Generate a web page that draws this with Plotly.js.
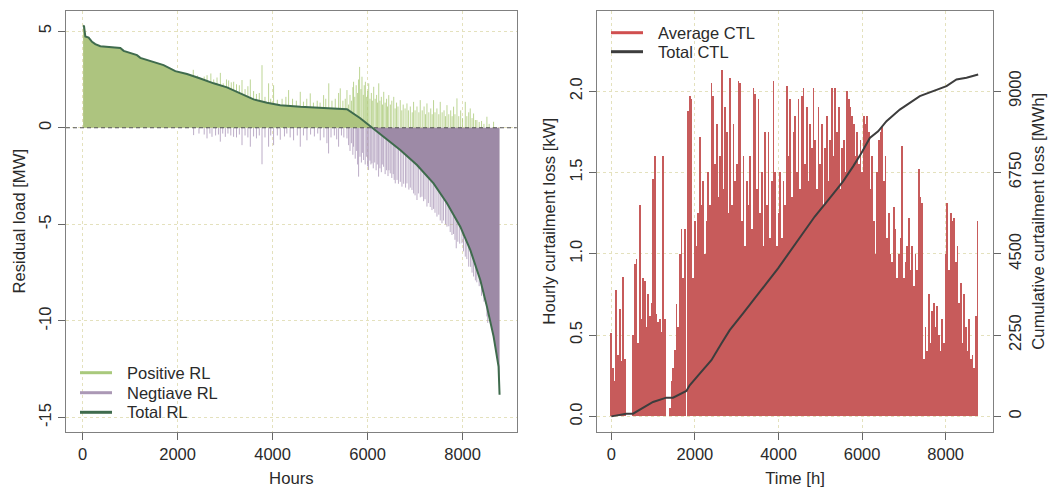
<!DOCTYPE html>
<html>
<head>
<meta charset="utf-8">
<script src="https://cdn.plot.ly/plotly-3.0.1.min.js"></script>
<style>html,body{margin:0;padding:0;background:#fff;}#chart{width:1048px;height:488px;}</style>
</head>
<body>
<div id="chart"></div>
<script>
// ---------- Left panel: residual load duration curve ----------
const TOTAL_H = [10,30,57,127,198,267,373,794,864,1145,1215,1495,1705,1952,2198,2478,2758,3040,3320,3600,3882,4162,4583,5004,5566,5846,6105,6337,6688,7040,7389,7672,7952,8162,8373,8513,8653,8758,8779];
const TOTAL_V = [5.29,5.25,4.72,4.67,4.45,4.33,4.22,4.13,3.98,3.76,3.62,3.41,3.24,2.93,2.78,2.55,2.30,2.09,1.78,1.47,1.29,1.17,1.09,1.05,0.96,0.49,0.0,-0.47,-1.15,-1.93,-2.88,-3.91,-5.12,-6.32,-7.88,-9.26,-10.8,-12.36,-13.82];

const POS_H = [2330,2420,2560,2620,2700,2760,2830,2900,2960,3030,3075,3130,3180,3240,3300,3356,3420,3480,3531,3600,3660,3720,3777,3840,3916,3960,4021,4100,4200,4280,4337,4420,4500,4583,4650,4720,4793,4860,4940,5000,5074,5120,5183,5250,5320,5390,5425,5480,5530,5566,
  5600,5630,5660,5690,5705,5730,5760,5790,5810,5832,5860,5882,5910,5930,5954,5980,6000,6024,6050,6080,6100,6129,6160,6190,6210,6235,6260,6290,6315,6340,6370,6400,6420,6446,6480,6510,6551,6580,6610,6640,6688,6720,6750,6790,6829,6860,6900,6940,6969,7000,7040,7080,7109,7150,7190,7220,7250,7290,7330,7360,7389,7420,7460,7500,7530,7570,7610,7640,7672,7710,7750,7780,7811,7840,7882,7920,7960,8000,8057,8090,8130,8162,8200,8232,8270,8302,8350,8400,8450,8513,8560,8653];
const POS_V = [3.0,2.7,2.65,2.72,2.81,2.5,2.6,2.84,2.3,2.5,2.45,2.35,2.38,2.25,2.2,2.47,2.0,2.15,2.5,1.9,1.75,1.8,3.24,1.6,2.3,1.5,2.2,1.45,1.5,1.6,1.95,1.5,1.4,1.86,1.35,1.5,1.78,1.3,1.4,1.3,1.69,1.5,2.3,1.4,1.5,1.8,2.04,1.4,1.5,1.95,
  1.2,1.7,1.4,2.1,2.38,1.6,2.2,1.8,2.5,3.15,2.0,2.64,1.7,2.2,2.38,1.6,1.9,2.3,1.5,1.8,1.4,2.12,1.5,1.7,1.3,2.3,1.4,1.6,1.2,1.86,1.3,1.5,1.1,1.69,1.2,1.4,1.6,1.0,1.3,1.1,1.43,0.9,1.2,1.0,1.26,0.9,1.1,0.8,1.34,0.9,1.1,0.8,1.43,0.9,1.1,0.7,1.26,0.8,1.0,0.7,1.43,0.8,1.0,0.7,1.34,0.8,0.9,0.6,1.17,0.7,0.9,0.6,1.09,0.7,1.52,0.6,0.9,0.5,1.34,0.6,0.8,1.0,0.5,0.74,0.4,0.4,0.3,0.35,0.2,0.57,0.2,0.31];

const NEG_H = [2337,2450,2560,2619,2680,2724,2800,2860,2899,2950,3005,3060,3120,3179,3240,3300,3356,3420,3480,3531,3600,3660,3720,3777,3840,3916,3960,4021,4100,4162,4250,4300,4370,4442,4520,4583,4650,4723,4800,4880,4950,5004,5080,5144,5179,5230,5300,5350,5390,5450,5500,5566,
  5600,5630,5660,5690,5705,5740,5770,5790,5811,5840,5870,5895,5916,5950,5980,6000,6021,6050,6070,6092,6120,6150,6180,6205,6232,6260,6290,6310,6337,6370,6400,6430,6450,6478,6510,6540,6560,6583,6620,6650,6690,6724,6760,6800,6829,6870,6900,6935,6970,7000,7040,7070,7110,7145,7180,7210,7250,7280,7320,7356,7390,7420,7461,7500,7530,7567,7600,7640,7672,7710,7740,7777,7810,7840,7867,7900,7940,7987,8020,8057,8090,8129,8170,8200,8232,8270,8300,8350,8400,8450,8513,8530];
const NEG_V = [-0.38,-0.3,-0.35,-0.55,-0.3,-0.47,-0.4,-0.35,-0.72,-0.3,-0.47,-0.3,-0.4,-0.47,-0.5,-0.35,-0.9,-0.4,-0.5,-0.98,-0.45,-0.55,-0.4,-1.89,-0.5,-0.98,-0.4,-0.9,-0.4,-0.62,-0.45,-0.3,-0.5,-0.65,-0.4,-0.98,-0.4,-0.65,-0.35,-0.45,-0.3,-0.65,-0.5,-0.8,-1.33,-0.5,-0.4,-0.6,-0.98,-0.4,-0.5,-0.55,
  -0.9,-1.2,-0.8,-1.4,-0.98,-1.6,-1.2,-1.9,-2.53,-1.5,-1.8,-1.3,-1.67,-1.9,-1.5,-2.0,-2.19,-1.7,-1.9,-1.84,-2.1,-1.8,-2.2,-1.9,-2.53,-2.1,-2.3,-1.9,-2.02,-2.4,-2.2,-2.5,-2.2,-2.36,-2.6,-2.4,-2.7,-2.88,-2.7,-2.9,-2.8,-3.05,-2.9,-3.1,-2.88,-3.2,-3.1,-3.22,-3.4,-3.5,-3.74,-3.4,-3.6,-3.57,-3.8,-3.7,-4.08,-3.9,-4.1,-4.26,-4.2,-4.4,-4.6,-4.5,-4.8,-4.94,-4.8,-5.0,-5.12,-5.1,-5.4,-5.55,-5.5,-5.8,-6.24,-5.9,-6.0,-5.98,-6.4,-6.67,-6.8,-7.19,-7.2,-7.5,-7.7,-7.9,-8.0,-8.2,-8.7,-9.0,-9.77,-10.1];

const LEFT_XTICKS = [0,2000,4000,6000,8000];
const LEFT_YTICKS = [-15,-10,-5,0,5];
const LEFT_YTEXT = ['-15','-10','-5','0','5'];
const LEFT_LEGEND = ['Positive RL','Negtiave RL','Total RL'];

// ---------- Right panel: curtailment loss ----------
const CTL_STEP = 40; // hours between bars
const CTL_V = [
  0.51,0.30,0.22,0.78,0.38,0.66,0.34,0.86,0.35,0.00,
  0.00,0.00,0.00,0.50,0.94,0.97,0.45,1.30,0.60,0.85,
  0.83,0.55,0.75,0.62,0.70,1.46,1.60,0.63,0.58,0.60,
  0.52,1.60,0.60,0.00,0.00,0.05,0.22,0.30,0.41,0.69,
  0.55,1.00,1.15,0.85,1.15,0.00,1.88,1.97,1.95,0.85,
  1.20,1.05,1.25,1.72,1.30,1.45,1.00,1.20,1.50,1.30,
  2.05,1.97,1.55,1.80,1.35,1.60,2.13,1.40,1.90,1.75,
  1.25,2.08,1.30,1.80,1.45,1.55,2.06,2.05,1.20,1.60,
  1.05,1.45,1.30,1.60,1.15,2.02,1.98,1.40,1.95,1.25,
  1.50,1.05,1.75,1.30,1.75,1.10,1.45,2.06,1.50,1.05,
  1.25,1.50,1.10,1.45,1.30,2.03,1.60,1.95,1.35,1.75,
  1.85,1.50,1.95,1.40,1.97,2.02,1.55,1.90,1.45,1.80,
  1.65,2.02,1.70,1.40,1.90,1.55,1.80,1.30,1.65,1.85,
  1.45,1.70,2.02,1.60,2.02,1.75,1.90,1.40,1.65,1.70,
  1.50,2.00,1.95,1.90,1.85,1.80,1.60,1.75,1.55,1.70,
  1.50,1.85,1.80,1.85,1.75,1.40,1.60,1.20,1.00,1.50,
  1.70,1.75,1.78,1.45,1.60,1.10,1.25,1.00,0.95,1.29,
  1.15,0.85,1.00,1.10,1.66,0.85,0.95,1.05,1.22,0.90,
  1.05,0.80,1.00,0.90,1.52,1.35,1.31,0.35,0.55,0.40,
  0.75,0.45,0.65,0.70,0.55,0.68,0.50,0.40,0.60,0.45,
  1.00,1.31,0.90,1.25,1.20,1.22,0.95,1.05,0.70,0.82,
  0.45,0.75,0.55,0.40,0.60,0.35,0.38,0.30,0.62,1.20];

const CUM_H = [0,359,519,718,998,1317,1476,1796,1875,2115,2394,2634,2833,3152,3471,3711,3990,4269,4589,4868,5227,5546,5786,5985,6185,6384,6584,6903,7382,7701,8020,8259,8499,8778];
const CUM_V = [0,74,74,213,398,518,518,703,860,1184,1554,2016,2386,2849,3311,3681,4098,4560,5069,5531,6040,6503,6919,7289,7705,7890,8168,8491,8861,9000,9139,9324,9370,9462];

const RIGHT_YTICKS = [0,0.5,1,1.5,2];
const RIGHT_YTEXT = ['0.0','0.5','1.0','1.5','2.0'];
const CUM_TICKS = [0,2250,4500,6750,9000];
const RIGHT_LEGEND = ['Average CTL','Total CTL'];

// ---------- build ----------
function spikes(hs, vs) {
  const x = [], y = [];
  for (let i = 0; i < hs.length; i++) { x.push(hs[i], hs[i], null); y.push(0, vs[i], null); }
  return {x, y};
}
const cross = TOTAL_V.indexOf(0);
const posS = spikes(POS_H, POS_V), negS = spikes(NEG_H, NEG_V);
const ctlX = CTL_V.map((v, i) => i * CTL_STEP);

const C_GREEN_FILL = '#adc47f', C_GREEN_SPK = 'rgba(172,202,122,0.8)';
const C_PURP_FILL = '#9d8aa6', C_PURP_SPK = 'rgba(165,146,180,0.75)';
const C_TOTAL = '#3f6b4d';
const C_RED = '#c75b5b';
const C_DARK = '#3d3d3d';

const traces = [
  {type:'scatter', mode:'lines', x:negS.x, y:negS.y, line:{color:C_PURP_SPK, width:1}, hoverinfo:'skip', xaxis:'x', yaxis:'y'},
  {type:'scatter', mode:'lines', x:posS.x, y:posS.y, line:{color:C_GREEN_SPK, width:1}, hoverinfo:'skip', xaxis:'x', yaxis:'y'},
  {type:'scatter', mode:'lines', x:TOTAL_H.slice(0, cross+1), y:TOTAL_V.slice(0, cross+1), fill:'tozeroy', fillcolor:C_GREEN_FILL, line:{width:0, color:C_GREEN_FILL}, hoverinfo:'skip', xaxis:'x', yaxis:'y'},
  {type:'scatter', mode:'lines', x:TOTAL_H.slice(cross), y:TOTAL_V.slice(cross), fill:'tozeroy', fillcolor:C_PURP_FILL, line:{width:0, color:C_PURP_FILL}, hoverinfo:'skip', xaxis:'x', yaxis:'y'},
  {type:'scatter', mode:'lines', x:TOTAL_H, y:TOTAL_V, line:{color:C_TOTAL, width:2}, xaxis:'x', yaxis:'y'},
  // right panel
  {type:'bar', x:ctlX, y:CTL_V, width:CTL_STEP*1.03, marker:{color:C_RED, line:{width:0}}, xaxis:'x2', yaxis:'y2'},
  {type:'scatter', mode:'lines', x:CUM_H, y:CUM_V, line:{color:C_DARK, width:2}, xaxis:'x2', yaxis:'y3'}
];

const FONT = {family:'"Liberation Sans", Arial, Helvetica, sans-serif', size:16.5, color:'#2a2a2a'};
const TFONT = Object.assign({}, FONT, {size:16.7});
const GRID = '#e4e1bd';
function axisBase() {
  return {showline:true, mirror:true, linecolor:'#808080', linewidth:1, ticks:'outside', ticklen:7, tickcolor:'#666', tickwidth:1,
          showgrid:true, gridcolor:GRID, griddash:'dot', gridwidth:1, zeroline:false, tickfont:FONT, automargin:false, fixedrange:true};
}
const H = 488, W = 1048;
const yDom = [(H-432)/H, (H-10.5)/H];

// hand-built legends (paper-pixel placement)
const shapes = [{type:'line', xref:'x domain', yref:'y', x0:0, x1:1, y0:0, y1:0, line:{color:'#555', width:1, dash:'4px,3px'}, layer:'above'}];
const annotations = [];
function legendRows(labels, colors, x0, x1, tx, rows) {
  labels.forEach((lab, i) => {
    const yp = (H - rows[i]) / H;
    shapes.push({type:'line', xref:'paper', yref:'paper', x0:x0/W, x1:x1/W, y0:yp, y1:yp, line:{color:colors[i], width:3}});
    annotations.push({xref:'paper', yref:'paper', x:tx/W, y:yp, xanchor:'left', yanchor:'middle', text:lab, showarrow:false, font:FONT});
  });
}
legendRows(LEFT_LEGEND, ['#a9c97c','#ab98b5',C_TOTAL], 80, 112, 125, [372.7, 392.7, 412.3]);
legendRows(RIGHT_LEGEND, ['#d04f4f',C_DARK], 611, 643, 656, [32.7, 51.7]);

const layout = {
  width:W, height:H, margin:{l:0, r:0, t:0, b:0}, paper_bgcolor:'#fff', plot_bgcolor:'#fff', font:FONT, bargap:0, showlegend:false,
  xaxis: Object.assign(axisBase(), {domain:[66/W, 516.7/W], range:[-350, 9140], tickmode:'array', tickvals:LEFT_XTICKS, anchor:'y',
          title:{text:'Hours', font:TFONT, standoff:12}}),
  yaxis: Object.assign(axisBase(), {domain:yDom, range:[-15.75, 6.07], tickmode:'array', tickvals:LEFT_YTICKS, ticktext:LEFT_YTEXT, tickangle:-90, anchor:'x',
          title:{text:'Residual load [MW]', font:TFONT, standoff:6}}),
  xaxis2: Object.assign(axisBase(), {domain:[596.7/W, 993.3/W], range:[-350, 9140], tickmode:'array', tickvals:LEFT_XTICKS, anchor:'y2',
          title:{text:'Time [h]', font:TFONT, standoff:12}}),
  yaxis2: Object.assign(axisBase(), {domain:yDom, range:[-0.096, 2.496], tickmode:'array', tickvals:RIGHT_YTICKS, ticktext:RIGHT_YTEXT, tickangle:-90, anchor:'x2',
          title:{text:'Hourly curtailment loss [kW]', font:TFONT, standoff:7}}),
  yaxis3: Object.assign(axisBase(), {domain:yDom, range:[-432, 11232], tickmode:'array', tickvals:CUM_TICKS, tickangle:-90, anchor:'x2', overlaying:'y2', side:'right',
          showgrid:false, mirror:false, title:{text:'Cumulative curtailment loss [MWh]', font:TFONT, standoff:12}}),
  shapes: shapes,
  annotations: annotations
};
Plotly.newPlot('chart', traces, layout, {displayModeBar:false, staticPlot:true});
</script>
</body>
</html>
